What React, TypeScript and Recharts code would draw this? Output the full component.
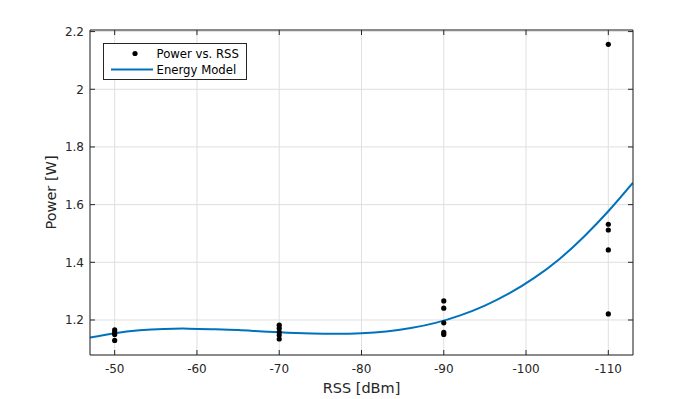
import React from "react";
import {
  ComposedChart,
  Line,
  Scatter,
  XAxis,
  YAxis,
  CartesianGrid,
  Legend,
  Label,
} from "recharts";

// Axis ticks
const rssTicks = [-110, -100, -90, -80, -70, -60, -50];
const powerTicks = [1.2, 1.4, 1.6, 1.8, 2.0, 2.2];

// Measured samples (Power vs. RSS)
const measuredRss = [
  -50, -50, -50, -50, -70, -70, -70, -70, -70, -90, -90, -90, -90, -90, -110,
  -110, -110, -110, -110,
];
const measuredPower = [
  1.166, 1.158, 1.15, 1.129, 1.182, 1.171, 1.158, 1.148, 1.134, 1.266, 1.241,
  1.19, 1.157, 1.15, 2.156, 1.532, 1.512, 1.443, 1.221,
];

// Energy model curve
const modelRss = [
  -47, -50, -53, -56, -59, -62, -65, -68, -71, -74, -77, -80, -83, -86, -89,
  -92, -95, -98, -101, -104, -107, -110, -113,
];
const modelPower = [
  1.139, 1.154, 1.164, 1.169, 1.17, 1.168, 1.165, 1.16, 1.156, 1.153, 1.152,
  1.154, 1.16, 1.172, 1.19, 1.216, 1.25, 1.293, 1.346, 1.41, 1.488, 1.577,
  1.676,
];

const seriesNames = ["Power vs. RSS", "Energy Model"];

const measured = measuredRss.map((rss, i) => ({ rss, power: measuredPower[i] }));
const model = modelRss.map((rss, i) => ({ rss, power: modelPower[i] }));

const FONT = "DejaVu Sans, sans-serif";
const AXIS = "#262626";
const BLUE = "#0072BD";

const fmtPower = (v: number) => String(Number(v.toFixed(1)));

const LegendBox = () => (
  <svg width={144} height={37} style={{ display: "block", fontFamily: FONT }}>
    <rect x={0.5} y={0.5} width={143} height={36} fill='#fff' stroke={AXIS} />
    <circle cx={32} cy={10.5} r={2.6} fill='#000' />
    <text x={53.5} y={10.5} dy='0.35em' fontSize={11.7} fill='#000'>
      {seriesNames[0]}
    </text>
    <line x1={8} x2={50} y1={26.5} y2={26.5} stroke={BLUE} strokeWidth={2} />
    <text x={53.5} y={26.5} dy='0.35em' fontSize={11.7} fill='#000'>
      {seriesNames[1]}
    </text>
  </svg>
);

const Dot = (props: any) => (
  <circle cx={props.cx} cy={props.cy} r={2.6} fill='#000' />
);

const NoTick = () => <g />;

const App = () => {
  return (
    <div
      style={{
        position: "absolute",
        left: 0,
        top: 0,
        width: 699,
        height: 399,
        background: "#fff",
        fontFamily: FONT,
      }}
    >
      <ComposedChart
        width={699}
        height={399}
        margin={{ top: 29, right: 65, bottom: 0, left: 0 }}
        style={{ fontFamily: FONT }}
      >
        <CartesianGrid xAxisId='main' yAxisId='main' stroke='#dfdfdf' />
        <XAxis
          xAxisId='main'
          dataKey='rss'
          type='number'
          domain={[-113, -47]}
          reversed
          allowDataOverflow
          ticks={rssTicks}
          height={44}
          stroke={AXIS}
          tickSize={-5}
          tickMargin={14}
          tick={{ fill: AXIS, fontSize: 12 }}
        >
          <Label
            value='RSS [dBm]'
            position='center'
            dy={11}
            fill={AXIS}
            fontSize={14.5}
          />
        </XAxis>
        <XAxis
          xAxisId='top'
          orientation='top'
          dataKey='rss'
          type='number'
          domain={[-113, -47]}
          reversed
          allowDataOverflow
          ticks={rssTicks}
          height={1}
          stroke={AXIS}
          tickSize={-5}
          tick={NoTick}
        />
        <YAxis
          yAxisId='main'
          dataKey='power'
          type='number'
          domain={[1.0786, 2.2055]}
          allowDataOverflow
          ticks={powerTicks}
          tickFormatter={fmtPower}
          width={90}
          stroke={AXIS}
          tickSize={-5}
          tickMargin={11}
          tick={{ fill: AXIS, fontSize: 12 }}
        >
          <Label
            value='Power [W]'
            position='center'
            angle={-90}
            dx={6}
            fill={AXIS}
            fontSize={14.5}
          />
        </YAxis>
        <YAxis
          yAxisId='right'
          orientation='right'
          dataKey='power'
          type='number'
          domain={[1.0786, 2.2055]}
          allowDataOverflow
          ticks={powerTicks}
          width={1}
          stroke={AXIS}
          tickSize={-5}
          tick={NoTick}
        />
        <Legend
          layout='vertical'
          align='center'
          verticalAlign='middle'
          content={() => <LegendBox />}
          wrapperStyle={{ left: 103, top: 43, width: 144, height: 37 }}
        />
        <Line
          xAxisId='main'
          yAxisId='main'
          data={model}
          dataKey='power'
          name={seriesNames[1]}
          type='natural'
          stroke={BLUE}
          strokeWidth={2}
          dot={false}
          activeDot={false}
          isAnimationActive={false}
        />
        <Scatter
          xAxisId='main'
          yAxisId='main'
          data={measured}
          dataKey='power'
          name={seriesNames[0]}
          shape={Dot}
          isAnimationActive={false}
        />
      </ComposedChart>
    </div>
  );
};

export default App;
